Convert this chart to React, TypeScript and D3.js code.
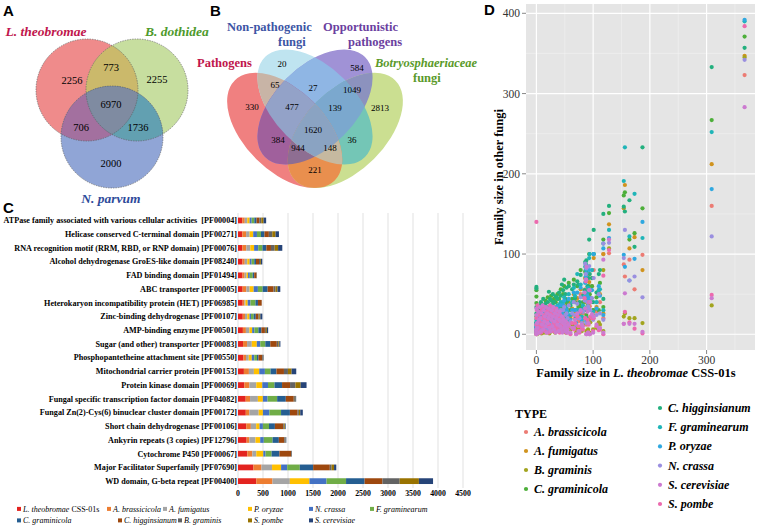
import React from "react";
import * as d3 from "d3";

// ================= DATA =================
// Panel A: three-way Venn
const vennATitles = ["L. theobromae", "B. dothidea", "N. parvum"];
const vennARegions: number[][] = [[0], [1], [2], [0, 1], [0, 2], [1, 2], [0, 1, 2]];
const vennACounts = [2256, 2255, 2000, 773, 706, 1736, 6970];

// Panel B: four-way Venn
const vennBRegions: number[][] = [
  [0], [1], [2], [3], [0, 1], [1, 2], [2, 3], [0, 2], [1, 3], [0, 3],
  [0, 1, 2], [1, 2, 3], [0, 2, 3], [0, 1, 3], [0, 1, 2, 3],
];
const vennBCounts = [330, 20, 584, 2813, 65, 27, 1049, 384, 36, 221, 477, 139, 944, 148, 1620];

// Panel C: top-20 Pfam families
const cFamilies = [
  "ATPase family associated with various cellular activities  [PF00004]",
  "Helicase conserved C-terminal domain [PF00271]",
  "RNA recognition motif (RRM, RBD, or RNP domain) [PF00076]",
  "Alcohol dehydrogenase GroES-like domain [PF08240]",
  "FAD binding domain [PF01494]",
  "ABC transporter [PF00005]",
  "Heterokaryon incompatibility protein (HET) [PF06985]",
  "Zinc-binding dehydrogenase [PF00107]",
  "AMP-binding enzyme [PF00501]",
  "Sugar (and other) transporter [PF00083]",
  "Phosphopantetheine attachment site [PF00550]",
  "Mitochondrial carrier protein [PF00153]",
  "Protein kinase domain [PF00069]",
  "Fungal specific transcription factor domain [PF04082]",
  "Fungal Zn(2)-Cys(6) binuclear cluster domain [PF00172]",
  "Short chain dehydrogenase [PF00106]",
  "Ankyrin repeats (3 copies) [PF12796]",
  "Cytochrome P450 [PF00067]",
  "Major Facilitator Superfamily [PF07690]",
  "WD domain, G-beta repeat [PF00400]",
];
const lTheobromae = [85, 87, 88, 90, 91, 93, 94, 95, 98, 101, 110, 118, 128, 154, 156, 164, 173, 187, 309, 367];
const aBrassicicola = [50, 75, 78, 45, 42, 75, 35, 45, 60, 80, 50, 100, 101, 87, 72, 93, 56, 99, 160, 323];
const aFumigatus = [50, 70, 80, 50, 38, 65, 20, 45, 70, 95, 55, 100, 137, 157, 186, 107, 121, 80, 212, 347];
const bGraminis = [40, 68, 75, 20, 6, 40, 2, 15, 20, 30, 15, 80, 107, 22, 26, 20, 20, 14, 36, 345];
const cGraminicola = [45, 70, 78, 35, 30, 100, 50, 40, 60, 100, 30, 118, 151, 173, 177, 118, 126, 157, 267, 371];
const cHigginsianum = [55, 88, 92, 60, 45, 118, 75, 55, 70, 130, 75, 150, 160, 159, 153, 167, 109, 233, 333, 357];
const fGraminearum = [52, 80, 85, 52, 58, 95, 100, 55, 80, 100, 55, 113, 130, 191, 233, 122, 175, 120, 252, 390];
const pOryzae = [47, 72, 76, 48, 30, 80, 45, 45, 55, 100, 60, 107, 120, 99, 84, 67, 94, 140, 181, 392];
const nCrassa = [42, 75, 82, 40, 35, 85, 55, 30, 45, 70, 50, 113, 114, 95, 130, 67, 72, 46, 122, 342];
const sCerevisiae = [52, 68, 84, 28, 2, 55, 0, 40, 25, 22, 8, 93, 118, 13, 51, 13, 13, 3, 45, 283];
const sPombe = [45, 66, 68, 18, 2, 40, 0, 22, 20, 20, 5, 73, 105, 13, 28, 15, 7, 1, 49, 384];

const cSeriesNames = [
  "L. theobromae", "A. brassicicola", "A. fumigatus", "P. oryzae", "N. crassa", "F. graminearum",
  "C. graminicola", "C. higginsianum", "B. graminis", "S. pombe", "S. cerevisiae",
];
const cSeriesValues = [
  lTheobromae, aBrassicicola, aFumigatus, pOryzae, nCrassa, fGraminearum,
  cGraminicola, cHigginsianum, bGraminis, sPombe, sCerevisiae,
];
const cTicks = [0, 500, 1000, 1500, 2000, 2500, 3000, 3500, 4000, 4500];

// Panel D: family sizes (x = L. theobromae, then one value per other fungus in legend order)
const dTypes = [
  "A. brassicicola", "A. fumigatus", "B. graminis", "C. graminicola", "C. higginsianum",
  "F. graminearum", "P. oryzae", "N. crassa", "S. cerevisiae", "S. pombe",
];
const dTypeValues = [
  aBrassicicola, aFumigatus, bGraminis, cGraminicola, cHigginsianum,
  fGraminearum, pOryzae, nCrassa, sCerevisiae, sPombe,
];
// other (smaller) families: [L.theo, A.bra, A.fum, B.gra, C.grm, C.hig, F.gra, P.ory, N.cra, S.cer, S.pom]
const otherFamilies: number[][] = [
  [0, 3, 2, 1, 55, 59, 6, 4, 2, 0, 140],
  [0, 8, 10, 4, 47, 57, 14, 12, 6, 2, 0],
  [0, 14, 6, 10, 39, 34, 18, 9, 11, 6, 4],
  [0, 2, 4, 0, 10, 15, 7, 5, 3, 24, 20],
  [0, 5, 8, 3, 22, 26, 12, 10, 6, 32, 12],
  [1, 1, 2, 0, 6, 8, 4, 2, 1, 14, 30],
  [2, 10, 12, 6, 18, 22, 16, 14, 9, 8, 36],
  [3, 6, 4, 2, 12, 16, 10, 6, 5, 28, 6],
  [4, 16, 18, 9, 30, 32, 22, 20, 15, 18, 24],
  [5, 4, 6, 2, 9, 11, 8, 6, 4, 2, 16],
  [6, 12, 9, 8, 26, 36, 20, 16, 12, 34, 10],
  [7, 8, 12, 4, 16, 20, 14, 10, 8, 20, 28],
  [8, 18, 14, 12, 33, 40, 24, 22, 16, 4, 2],
  [9, 3, 5, 1, 8, 10, 6, 4, 3, 26, 32],
  [10, 10, 16, 6, 20, 24, 18, 14, 10, 12, 20],
  [11, 6, 8, 3, 14, 18, 10, 8, 6, 36, 8],
  [12, 20, 22, 14, 36, 44, 28, 26, 20, 6, 14],
  [13, 4, 6, 2, 10, 12, 8, 6, 5, 30, 24],
  [14, 14, 12, 8, 24, 30, 18, 16, 12, 16, 34],
  [15, 9, 10, 5, 18, 20, 14, 12, 9, 22, 4],
  [16, 22, 18, 16, 42, 38, 30, 28, 24, 10, 18],
  [17, 5, 8, 2, 12, 15, 10, 7, 6, 34, 28],
  [18, 16, 20, 10, 28, 34, 24, 20, 16, 2, 10],
  [19, 8, 6, 4, 14, 16, 12, 10, 7, 26, 16],
  [20, 24, 26, 18, 46, 40, 32, 30, 26, 14, 30],
  [21, 6, 9, 3, 16, 18, 12, 8, 6, 20, 2],
  [22, 12, 14, 8, 26, 53, 20, 16, 12, 32, 22],
  [23, 4, 3, 1, 8, 10, 6, 4, 3, 8, 12],
  [24, 18, 22, 12, 34, 44, 26, 24, 20, 24, 36],
  [25, 10, 12, 6, 20, 22, 16, 12, 10, 4, 26],
  [26, 26, 30, 20, 48, 42, 36, 32, 28, 18, 8],
  [27, 7, 10, 4, 14, 18, 12, 9, 8, 30, 18],
  [28, 14, 16, 10, 30, 36, 22, 18, 14, 10, 34],
  [29, 20, 18, 14, 38, 50, 28, 26, 22, 22, 4],
  [30, 9, 12, 5, 18, 22, 14, 10, 9, 34, 24],
  [31, 28, 24, 20, 44, 40, 34, 30, 26, 6, 14],
  [32, 12, 16, 8, 24, 28, 20, 16, 12, 16, 30],
  [33, 5, 7, 2, 12, 14, 9, 7, 5, 26, 10],
  [34, 22, 26, 16, 40, 47, 30, 28, 22, 2, 22],
  [35, 10, 8, 6, 20, 24, 16, 12, 9, 20, 32],
  [36, 16, 20, 10, 30, 46, 24, 22, 18, 30, 6],
  [37, 30, 28, 22, 50, 44, 36, 34, 28, 12, 16],
  [38, 8, 10, 4, 16, 18, 12, 10, 8, 24, 28],
  [39, 14, 18, 8, 28, 34, 22, 18, 14, 4, 20],
  [40, 24, 20, 16, 44, 52, 30, 28, 22, 18, 10],
  [41, 6, 9, 3, 12, 16, 10, 8, 6, 28, 2],
  [42, 18, 22, 12, 34, 38, 26, 22, 18, 10, 24],
  [43, 32, 26, 24, 56, 48, 40, 36, 30, 16, 6],
  [44, 10, 14, 6, 20, 24, 16, 12, 10, 6, 18],
  [45, 20, 24, 14, 36, 62, 28, 26, 20, 22, 12],
  [46, 12, 10, 8, 24, 30, 18, 14, 12, 2, 8],
  [47, 28, 34, 22, 50, 55, 40, 36, 30, 14, 20],
  [48, 8, 12, 4, 16, 20, 12, 10, 8, 18, 4],
  [49, 36, 30, 26, 60, 68, 46, 42, 34, 8, 12],
  [50, 14, 16, 10, 28, 32, 22, 18, 14, 12, 16],
  [51, 22, 28, 16, 44, 50, 34, 30, 24, 4, 10],
  [52, 6, 8, 2, 14, 18, 10, 8, 6, 16, 6],
  [53, 26, 22, 18, 40, 58, 32, 30, 26, 10, 2],
  [54, 10, 12, 6, 22, 24, 16, 14, 10, 2, 14],
  [55, 18, 24, 12, 36, 42, 28, 24, 20, 6, 10],
  [57, 30, 40, 20, 64, 60, 50, 44, 36, 12, 10],
  [60, 14, 20, 6, 30, 36, 24, 18, 16, 2, 0],
  [63, 24, 32, 12, 44, 56, 40, 30, 26, 8, 14],
  [66, 44, 50, 30, 68, 62, 58, 52, 40, 8, 6],
  [68, 20, 26, 10, 40, 45, 48, 30, 24, 18, 14],
  [70, 10, 6, 2, 22, 30, 20, 14, 12, 0, 0],
  [72, 40, 45, 28, 60, 66, 75, 52, 38, 26, 22],
  [74, 16, 22, 8, 34, 62, 30, 26, 20, 4, 10],
  [76, 18, 24, 8, 36, 40, 30, 28, 20, 4, 2],
  [78, 50, 56, 34, 80, 74, 62, 58, 46, 30, 28],
  [80, 12, 16, 4, 28, 32, 22, 18, 14, 12, 8],
  [82, 26, 20, 12, 40, 48, 36, 30, 28, 10, 6],
  [86, 56, 70, 40, 78, 90, 84, 64, 88, 32, 20],
  [88, 12, 18, 4, 24, 30, 20, 16, 14, 0, 0],
  [92, 30, 40, 16, 60, 70, 54, 44, 32, 14, 12],
  [100, 20, 24, 6, 30, 40, 28, 22, 18, 2, 4],
  [106, 28, 34, 8, 46, 52, 40, 32, 24, 12, 10],
  [112, 40, 50, 12, 64, 80, 56, 48, 26, 8, 6],
  [118, 20, 26, 4, 34, 44, 30, 24, 18, 2, 0],
];
const dXTicks = [0, 100, 200, 300];
const dYTicks = [0, 100, 200, 300, 400];

// ================= STYLE / LAYOUT =================
const SERIF = "'Liberation Serif', 'Times New Roman', Times, serif";
const SANS = "'Liberation Sans', Arial, Helvetica, sans-serif";

type Shape = { cx: number; cy: number; rx: number; ry: number; rot: number };
const vennAShapes: Shape[] = [
  { cx: 87, cy: 90, rx: 51, ry: 51, rot: 0 },
  { cx: 137, cy: 90, rx: 51, ry: 51, rot: 0 },
  { cx: 112, cy: 137, rx: 51, ry: 51, rot: 0 },
];
const vennALabelPos = [[72, 80], [157, 79], [111, 163], [111, 67], [81, 127], [138, 127], [111, 104]];
const vennAFill = ["#EF8B8B", "#C7DE9F", "#90A5D6", "#CBB96B", "#A3709F", "#62A0B1", "#7F8BA1"];
const vennBShapes: Shape[] = [
  { cx: 284.7, cy: 130.4, rx: 70.7, ry: 40.4, rot: 45 },
  { cx: 315, cy: 107, rx: 70.7, ry: 40.4, rot: 45 },
  { cx: 315, cy: 107, rx: 70.7, ry: 40.4, rot: -45 },
  { cx: 345.3, cy: 130.4, rx: 70.7, ry: 40.4, rot: -45 },
];
const vennBLabelPos = [
  [252, 107], [282, 64], [357, 68], [380, 108], [275, 85], [313, 88], [352, 90], [278, 140],
  [352, 140], [315, 170], [292, 107], [335, 108], [298, 148], [330, 148], [313, 130],
];
const vennBFill = [
  "#F08080", "#BFE4F0", "#A092D6", "#CBDF91", "#C8B4A6", "#8FB6E4", "#8C92BE", "#A0609C",
  "#74C6B6", "#E98F4E", "#93A2C8", "#7BA8CE", "#8E6E92", "#C6B9A0", "#8AA3C2",
];
const cColors = [
  "#E3231F", "#ED7D31", "#A5A5A5", "#FFC000", "#4472C4", "#70AD47",
  "#255E91", "#9E480E", "#636363", "#997300", "#264478",
];
const cLegendPos = [
  [17, 0], [107, 0], [163, 0], [248, 0], [309, 0], [370, 0],
  [17, 1], [118, 1], [178, 1], [248, 1], [309, 1],
];
const dColors = [
  "#EC7C74", "#D0931E", "#A2A41E", "#4DAF3A", "#23B07E",
  "#1FB5B8", "#2FA8E0", "#9A8FE0", "#CC7AD0", "#EC6AAE",
];
const dDrawOrder = [0, 1, 2, 3, 4, 5, 6, 7, 9, 8];

// ================= HELPERS =================
function shapeEl(s: Shape, props: any) {
  return (
    <ellipse cx={s.cx} cy={s.cy} rx={s.rx} ry={s.ry}
      transform={`rotate(${s.rot} ${s.cx} ${s.cy})`} {...props} />
  );
}

function Venn({ id, shapes, regions, counts, fills, labelPos, fontSize, stroke }: any) {
  const order = d3.range(regions.length).sort((a, b) => regions[a].length - regions[b].length);
  return (
    <g>
      <defs>
        {shapes.map((s: Shape, i: number) => (
          <clipPath id={`${id}-c${i}`} key={i}>{shapeEl(s, {})}</clipPath>
        ))}
      </defs>
      {order.map((r) => {
        const sets: number[] = regions[r];
        let el: any = shapeEl(shapes[sets[sets.length - 1]], { fill: fills[r] });
        for (let k = sets.length - 2; k >= 0; k--) {
          el = <g clipPath={`url(#${id}-c${sets[k]})`}>{el}</g>;
        }
        return <g key={r}>{el}</g>;
      })}
      {stroke &&
        shapes.map((s: Shape, i: number) => (
          <g key={"s" + i}>{shapeEl(s, { fill: "none", stroke: "#5a5a5a", strokeWidth: 0.6, strokeDasharray: "1.5 1" })}</g>
        ))}
      {regions.map((sets: number[], r: number) => (
        <text key={"t" + r} x={labelPos[r][0]} y={labelPos[r][1]} textAnchor="middle" dominantBaseline="central"
          fontSize={fontSize} fontFamily={SERIF}>{counts[r]}</text>
      ))}
    </g>
  );
}

// ================= PANELS =================
function PanelA() {
  return (
    <g>
      <text x={3} y={16} fontFamily={SANS} fontWeight="bold" fontSize={15}>A</text>
      <Venn id="va" shapes={vennAShapes} regions={vennARegions} counts={vennACounts}
        fills={vennAFill} labelPos={vennALabelPos} fontSize={10.5} stroke />
      <text x={46} y={36} textAnchor="middle" fontFamily={SERIF} fontWeight="bold" fontStyle="italic" fontSize={13.5} fill="#C0164C">{vennATitles[0]}</text>
      <text x={145} y={36} fontFamily={SERIF} fontWeight="bold" fontStyle="italic" fontSize={13.5} fill="#4E9A2C">{vennATitles[1]}</text>
      <text x={111} y={203} textAnchor="middle" fontFamily={SERIF} fontWeight="bold" fontStyle="italic" fontSize={13.5} fill="#2E4A9A">{vennATitles[2]}</text>
    </g>
  );
}

function PanelB() {
  return (
    <g>
      <text x={210} y={16} fontFamily={SANS} fontWeight="bold" fontSize={15}>B</text>
      <Venn id="vb" shapes={vennBShapes} regions={vennBRegions} counts={vennBCounts}
        fills={vennBFill} labelPos={vennBLabelPos} fontSize={9} stroke={false} />
      <g fontFamily={SERIF} fontWeight="bold" fontSize={12.5}>
        <text x={227} y={31} fill="#3D55A5">Non-pathogenic</text>
        <text x={278} y={46} fill="#3D55A5">fungi</text>
        <text x={323} y={31} fill="#6B3FA0">Opportunistic</text>
        <text x={348} y={46} fill="#6B3FA0">pathogens</text>
        <text x={197} y={67} fill="#C0164C">Pathogens</text>
        <text x={375} y={67} fill="#5A9A2A" fontStyle="italic">Botryosphaeriaceae</text>
        <text x={413} y={82} fill="#5A9A2A">fungi</text>
      </g>
    </g>
  );
}

function PanelC() {
  const x = d3.scaleLinear().domain([0, 4500]).range([238, 463]);
  const y = d3.scaleBand<number>().domain(d3.range(cFamilies.length)).range([213.6, 488]);
  const rows = cFamilies.map((_, i) => {
    const o: any = {};
    cSeriesNames.forEach((n, k) => (o[n] = cSeriesValues[k][i]));
    return o;
  });
  const stacked = d3.stack<any>().keys(cSeriesNames)(rows);
  const bh = y.step() * 0.42;
  return (
    <g>
      <text x={3} y={213} fontFamily={SANS} fontWeight="bold" fontSize={15}>C</text>
      {cTicks.map((t) => (
        <line key={t} x1={x(t)} x2={x(t)} y1={213} y2={488} stroke="#D9D9D9" strokeWidth={0.8} />
      ))}
      {stacked.map((layer, k) => (
        <g key={k} fill={cColors[k]}>
          {layer.map((d, i) => (
            <rect key={i} x={x(d[0])} width={Math.max(0, x(d[1]) - x(d[0]))}
              y={y(i)! + y.bandwidth() / 2 - bh / 2} height={bh} />
          ))}
        </g>
      ))}
      <g fontFamily={SERIF} fontWeight="bold" fontSize={8.15} textAnchor="end">
        {cFamilies.map((f, i) => (
          <text key={i} x={237} y={y(i)! + y.bandwidth() / 2 + 2.8} style={{ whiteSpace: "pre" }}>{f}</text>
        ))}
      </g>
      <g fontFamily={SERIF} fontWeight="bold" fontSize={7.8} textAnchor="middle">
        {cTicks.map((t) => (
          <text key={t} x={x(t)} y={496}>{t}</text>
        ))}
      </g>
      <g fontFamily={SERIF} fontSize={8} fontStyle="italic">
        {cSeriesNames.map((n, k) => {
          const [lx, row] = cLegendPos[k];
          const ly = 511.5 + row * 11.5;
          return (
            <g key={k}>
              <rect x={lx} y={ly - 4.6} width={4} height={4} fill={cColors[k]} />
              <text x={lx + 6} y={ly}>
                {n}
                {k === 0 && <tspan fontStyle="normal"> CSS-01s</tspan>}
              </text>
            </g>
          );
        })}
      </g>
    </g>
  );
}

function PanelD() {
  const pts: { x: number; y: number; t: number }[] = [];
  dDrawOrder.forEach((t) => {
    lTheobromae.forEach((xv, i) => pts.push({ x: xv, y: dTypeValues[t][i], t }));
    otherFamilies.forEach((row) => pts.push({ x: row[0], y: row[1 + t], t }));
  });
  const [xmin, xmax] = d3.extent(pts, (p) => p.x) as [number, number];
  const [ymin, ymax] = d3.extent(pts, (p) => p.y) as [number, number];
  const xr = xmax - xmin, yr = ymax - ymin;
  const L = 526, R = 755, T = 4, B = 350;
  const x = d3.scaleLinear().domain([xmin - 0.05 * xr, xmax + 0.05 * xr]).range([L, R]);
  const y = d3.scaleLinear().domain([ymin - 0.05 * yr, ymax + 0.05 * yr]).range([B, T]);
  const xMinor = dXTicks.map((t) => t + 50).filter((t) => x(t) < R);
  const yMinor = dYTicks.map((t) => t + 50).filter((t) => y(t) > T);
  return (
    <g>
      <text x={484} y={15} fontFamily={SANS} fontWeight="bold" fontSize={15}>D</text>
      <rect x={L} y={T} width={R - L} height={B - T} fill="#E5E5E5" />
      {xMinor.map((t) => <line key={"xm" + t} x1={x(t)} x2={x(t)} y1={T} y2={B} stroke="#F2F2F2" strokeWidth={0.6} />)}
      {yMinor.map((t) => <line key={"ym" + t} y1={y(t)} y2={y(t)} x1={L} x2={R} stroke="#F2F2F2" strokeWidth={0.6} />)}
      {dXTicks.map((t) => <line key={"x" + t} x1={x(t)} x2={x(t)} y1={T} y2={B} stroke="#fff" strokeWidth={1.2} />)}
      {dYTicks.map((t) => <line key={"y" + t} y1={y(t)} y2={y(t)} x1={L} x2={R} stroke="#fff" strokeWidth={1.2} />)}
      {pts.map((p, i) => (
        <circle key={i} cx={x(p.x)} cy={y(p.y)} r={2.1} fill={dColors[p.t]} />
      ))}
      {dXTicks.map((t) => (
        <g key={"xt" + t}>
          <line x1={x(t)} x2={x(t)} y1={B} y2={B + 4} stroke="#555" strokeWidth={0.7} />
          <text x={x(t)} y={B + 14} textAnchor="middle" fontFamily={SERIF} fontSize={11.5} fill="#333">{t}</text>
        </g>
      ))}
      {dYTicks.map((t) => (
        <g key={"yt" + t}>
          <line x1={L - 4} x2={L} y1={y(t)} y2={y(t)} stroke="#555" strokeWidth={0.7} />
          <text x={L - 6} y={y(t) + 4} textAnchor="end" fontFamily={SERIF} fontSize={11.5} fill="#333">{t}</text>
        </g>
      ))}
      <text x={636} y={377} textAnchor="middle" fontFamily={SERIF} fontWeight="bold" fontSize={12.5}>
        Family size in <tspan fontStyle="italic">L. theobromae</tspan> CSS-01s
      </text>
      <text transform={`translate(503,177) rotate(-90)`} textAnchor="middle" fontFamily={SERIF} fontWeight="bold" fontSize={12.5}>
        Family size in other fungi
      </text>
      <text x={515} y={418} fontFamily={SERIF} fontWeight="bold" fontSize={12}>TYPE</text>
      {dTypes.map((n, k) => {
        const col = k < 4 ? 0 : 1;
        const row = k < 4 ? k : k - 4;
        const lx = col === 0 ? 526 : 660;
        const ly = col === 0 ? 432 + row * 19 : 408 + row * 19.2;
        return (
          <g key={k}>
            <circle cx={lx} cy={ly} r={2.1} fill={dColors[k]} />
            <text x={lx + 8} y={ly + 4} fontFamily={SERIF} fontWeight="bold" fontStyle="italic" fontSize={12}>{n}</text>
          </g>
        );
      })}
    </g>
  );
}

export default function App() {
  return (
    <svg width={760} height={526} viewBox="0 0 760 526"
      style={{ position: "absolute", left: 0, top: 0, background: "#fff", display: "block" }}>
      <rect width={760} height={526} fill="#fff" />
      <PanelA />
      <PanelB />
      <PanelC />
      <PanelD />
    </svg>
  );
}
